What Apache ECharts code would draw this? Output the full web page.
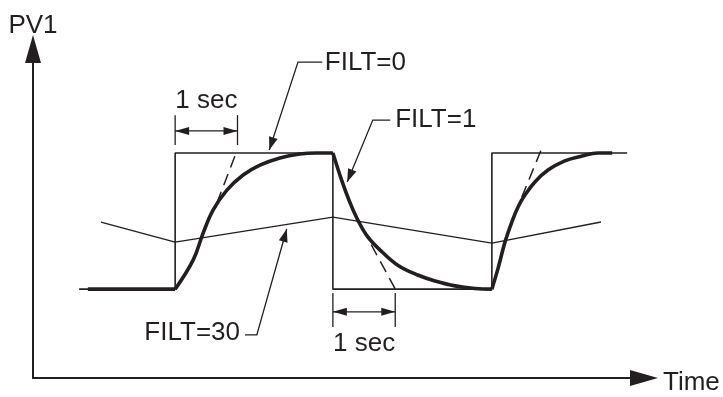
<!DOCTYPE html>
<html>
<head>
<meta charset="utf-8">
<script src="https://cdn.jsdelivr.net/npm/echarts@6/dist/echarts.min.js"></script>
<style>
  html, body { margin: 0; background: #fff; }
  #chart { width: 723px; height: 397px; }
</style>
</head>
<body>
<div id="chart"></div>
<script>
// time in seconds (1 sec = time constant of FILT=1), PV1 in arbitrary units
const filt0 = [[0.74, 2.7], [2.28, 2.7], [2.28, 6.84], [4.81, 6.84], [4.81, 2.7], [7.36, 2.7], [7.36, 6.84], [9.53, 6.84]];

const filt1Flat = [[0.88, 2.7], [2.28, 2.7]];
const filt1Rise = [[2.28, 2.7], [2.57, 3.59], [2.73, 4.41], [2.89, 5.11], [3.11, 5.71], [3.37, 6.17], [3.64, 6.47], [3.96, 6.69], [4.28, 6.81], [4.55, 6.84], [4.81, 6.84]];
const filt1Fall = [[4.81, 6.84], [4.96, 5.96], [5.08, 5.35], [5.21, 4.80], [5.37, 4.29], [5.60, 3.83], [5.85, 3.43], [6.17, 3.13], [6.45, 2.95], [6.77, 2.80], [7.09, 2.72], [7.36, 2.7]];
const filt1Rise2 = [[7.36, 2.7], [7.46, 3.34], [7.57, 4.13], [7.68, 4.74], [7.78, 5.20], [7.89, 5.56], [8.05, 5.96], [8.26, 6.32], [8.53, 6.60], [8.81, 6.75], [9.06, 6.84], [9.29, 6.84]];

// FILT=30 response
const filt30 = [[1.09, 4.74], [2.28, 4.13], [4.81, 4.89], [7.36, 4.10], [9.11, 4.74]];

// dashed tangents at the start of each step
const tangent1 = [[2.95, 5.32], [3.27, 6.90]];
const tangent2 = [[5.28, 4.56], [5.82, 2.67]];
const tangent3 = [[7.84, 5.50], [8.15, 6.93]];

// callouts: label anchor and leader line (last point = arrow tip)
const callouts = [
  { text: 'FILT=0', at: [4.68, 9.57], align: 'left', path: [[4.64, 9.60], [4.25, 9.60], [3.79, 6.93]] },
  { text: 'FILT=1', at: [5.81, 7.84], align: 'left', path: [[5.73, 7.84], [5.45, 7.84], [5.04, 5.96]] },
  { text: 'FILT=30', at: [3.32, 1.37], align: 'right', path: [[3.40, 1.31], [3.59, 1.31], [4.07, 4.53]] }
];
// "1 sec" dimension marks
const spans = [
  { from: 2.28, tickTop: 7.99, tickBottom: 7.08, arrowAt: 7.51, labelAt: 8.42 },
  { from: 4.81, tickTop: 2.58, tickBottom: 1.55, arrowAt: 2.01, labelAt: 1.03 }
];

const ink = '#231f20';
const font = '"Liberation Sans", Arial, Helvetica, sans-serif';
const fontSize = 26;
const xMax = 9.8;

function line(data, width, extra) {
  return Object.assign({
    type: 'line',
    data: data,
    showSymbol: false,
    silent: true,
    lineStyle: { color: ink, width: width },
  }, extra || {});
}

const dashed = { color: ink, width: 1.5, type: [12, 7] };

const option = {
  animation: false,
  grid: { left: 33, right: 79, top: 49, bottom: 19, containLabel: false, outerBoundsMode: 'none' },
  xAxis: {
    type: 'value', min: 0, max: xMax,
    axisLine: { lineStyle: { color: ink, width: 2 }, symbol: ['none', 'triangle'], symbolSize: [16, 28] },
    axisTick: { show: false }, axisLabel: { show: false }, splitLine: { show: false }
  },
  yAxis: {
    type: 'value', min: 0, max: 10,
    name: 'PV1', nameLocation: 'end', nameGap: 10,
    nameTextStyle: { color: ink, fontSize: fontSize, fontFamily: font },
    axisLine: { show: true, lineStyle: { color: ink, width: 2 }, symbol: ['none', 'triangle'], symbolSize: [16, 28] },
    axisTick: { show: false }, axisLabel: { show: false }, splitLine: { show: false }
  },
  series: [
    line(filt0, 1.6),
    line(filt30, 1.4),
    line(tangent1, 1.5, { lineStyle: dashed }),
    line(tangent2, 1.5, { lineStyle: dashed }),
    line(tangent3, 1.5, { lineStyle: dashed }),
    line(filt1Flat, 3.6, { z: 5 }),
    line(filt1Rise, 3.6, { z: 5, smooth: 0.4 }),
    line(filt1Fall, 3.6, { z: 5, smooth: 0.4 }),
    line(filt1Rise2, 3.6, { z: 5, smooth: 0.4 })
  ]
};

const chart = echarts.init(document.getElementById('chart'));
chart.setOption(option);

const toPx = p => chart.convertToPixel({ gridIndex: 0 }, p);

// filled triangle with its tip at `tip`, pointing away from `from`
function arrowHead(tip, from, len, half) {
  const dx = tip[0] - from[0], dy = tip[1] - from[1];
  const d = Math.sqrt(dx * dx + dy * dy);
  const ux = dx / d, uy = dy / d;
  const bx = tip[0] - ux * len, by = tip[1] - uy * len;
  return {
    type: 'polygon', silent: true, z: 10,
    shape: { points: [tip, [bx - uy * half, by + ux * half], [bx + uy * half, by - ux * half]] },
    style: { fill: ink }
  };
}

function label(text, pos, align) {
  return {
    type: 'text', silent: true, z: 10, x: pos[0], y: pos[1],
    style: { text: text, fill: ink, fontSize: fontSize, fontFamily: font, align: align, verticalAlign: 'middle' }
  };
}

function segment(a, b) {
  return { type: 'line', silent: true, z: 10, shape: { x1: a[0], y1: a[1], x2: b[0], y2: b[1] }, style: { stroke: ink, lineWidth: 1.3 } };
}

const graphics = [];
callouts.forEach(c => {
  const pts = c.path.map(toPx);
  graphics.push({ type: 'polyline', silent: true, z: 10, shape: { points: pts }, style: { stroke: ink, lineWidth: 1.3, fill: null } });
  graphics.push(arrowHead(pts[pts.length - 1], pts[pts.length - 2], 13, 4.5));
  graphics.push(label(c.text, toPx(c.at), c.align));
});
spans.forEach(s => {
  const to = s.from + 1;
  graphics.push(segment(toPx([s.from, s.tickTop]), toPx([s.from, s.tickBottom])));
  graphics.push(segment(toPx([to, s.tickTop]), toPx([to, s.tickBottom])));
  const l = toPx([s.from, s.arrowAt]), r = toPx([to, s.arrowAt]);
  graphics.push(segment(l, r));
  graphics.push(arrowHead(l, r, 14, 4));
  graphics.push(arrowHead(r, l, 14, 4));
  graphics.push(label('1 sec', toPx([(s.from + to) / 2, s.labelAt]), 'center'));
});
// x axis title, just past the arrow tip
const axisEnd = toPx([xMax, 0]);
graphics.push(label('Time', [axisEnd[0] + 19, axisEnd[1] + 5], 'left'));
chart.setOption({ graphic: graphics });
</script>
</body>
</html>
